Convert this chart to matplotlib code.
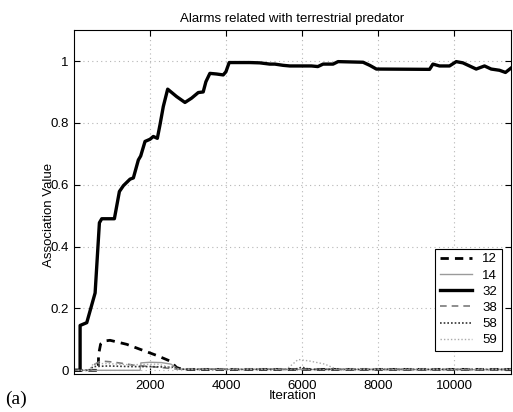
import numpy as np
import matplotlib; matplotlib.use('agg')
import matplotlib.pyplot as plt

plt.rcParams['font.family'] = ['Liberation Sans', 'DejaVu Sans']

# curve 32 (thick solid)
it32 = [0, 160, 160, 335, 555, 668, 730, 1062, 1194, 1300, 1474, 1562, 1693, 1755, 1869,
        2000, 2087, 2193, 2263, 2350, 2465, 2700, 2920, 3095, 3270, 3400, 3471, 3576,
        3750, 3926, 3997, 4084, 4628, 4890, 5153, 5285, 5504, 5680, 6250, 6417, 6555,
        6818, 6950, 7607, 7783, 7958, 9358, 9446, 9620, 9883, 10060, 10235, 10585,
        10804, 10980, 11199, 11356, 11500]
v32 = [0, 0, 0.145, 0.154, 0.25, 0.477, 0.49, 0.49, 0.578, 0.597, 0.618, 0.622, 0.68,
       0.693, 0.74, 0.747, 0.756, 0.75, 0.794, 0.853, 0.909, 0.885, 0.866, 0.88, 0.898,
       0.9, 0.933, 0.96, 0.958, 0.955, 0.965, 0.995, 0.995, 0.994, 0.99, 0.99, 0.986,
       0.984, 0.984, 0.982, 0.99, 0.99, 0.998, 0.996, 0.986, 0.974, 0.973, 0.99, 0.984,
       0.984, 0.998, 0.994, 0.974, 0.984, 0.974, 0.97, 0.963, 0.977]

# curve 12 (thick dashed)
it12 = [0, 640, 645, 700, 817, 948, 1387, 1781, 2176, 2526, 2700, 2850, 11500]
v12 = [0, 0, 0.05, 0.085, 0.095, 0.097, 0.084, 0.066, 0.048, 0.03, 0.009, 0.003, 0.003]

# curve 14 (thin light solid)
it14 = [0, 1740, 1760, 2000, 2300, 2550, 2750, 11500]
v14 = [0, 0, 0.024, 0.026, 0.025, 0.02, 0.003, 0.002]

# curve 38 (gray dashed)
it38 = [0, 450, 550, 700, 1000, 1300, 1600, 2200, 2700, 11500]
v38 = [0, 0, 0.02, 0.03, 0.027, 0.022, 0.016, 0.01, 0.004, 0.003]

# curve 58 (dark dotted)
it58 = [0, 400, 500, 900, 1500, 2000, 2600, 2900, 5800, 6000, 6200, 11500]
v58 = [0, 0, 0.012, 0.014, 0.012, 0.012, 0.01, 0.003, 0.003, 0.01, 0.003, 0.003]

# curve 59 (light dotted)
it59 = [0, 400, 500, 800, 1500, 2200, 2700, 5600, 5900, 6200, 6600, 6900, 11500]
v59 = [0, 0, 0.02, 0.022, 0.018, 0.02, 0.004, 0.004, 0.035, 0.03, 0.02, 0.004, 0.004]

fig = plt.figure(figsize=(5.13, 4.12), dpi=100)
ax = fig.add_axes([0.1443, 0.0922, 0.8517, 0.8348])

ax.plot(it12, v12, color='black', lw=2.0, ls=(0, (3, 2.2)), label='12')
ax.plot(it14, v14, color='#9a9a9a', lw=1.0, ls='-', label='14')
ax.plot(it32, v32, color='black', lw=2.4, ls='-', label='32')
ax.plot(it38, v38, color='#7a7a7a', lw=1.2, ls=(0, (4, 3)), label='38')
ax.plot(it58, v58, color='#333333', lw=1.2, ls=(0, (1, 1.2)), label='58')
ax.plot(it59, v59, color='#aaaaaa', lw=1.0, ls=(0, (1, 1.5)), label='59')

ax.set_xlim(0, 11500)
ax.set_ylim(-0.012, 1.1)
ax.set_xticks([2000, 4000, 6000, 8000, 10000])
ax.set_yticks([0, 0.2, 0.4, 0.6, 0.8, 1])
ax.set_yticklabels(['0', '0.2', '0.4', '0.6', '0.8', '1'])
ax.tick_params(direction='in', top=True, right=True, labelsize=9.5, length=4, pad=4)
ax.grid(True, color='#b5b5b5', ls=(0, (1, 3)), lw=0.8)
for s in ax.spines.values():
    s.set_linewidth(0.8)

ax.set_title('Alarms related with terrestrial predator', fontsize=9.5, pad=6)
ax.set_xlabel('Iteration', fontsize=9.5, labelpad=-1)
ax.set_ylabel('Association Value', fontsize=9.5)
# the label sits over the tick labels, as in the original
ax.yaxis.set_label_coords(-0.043, 0.462)

leg = ax.legend(loc='lower right', bbox_to_anchor=(0.979, 0.067), fontsize=9.5,
                fancybox=False, edgecolor='black', framealpha=1, handlelength=2.4,
                borderpad=0.35, labelspacing=0.3, handletextpad=0.8, borderaxespad=0)
leg.get_frame().set_linewidth(0.8)

fig.text(0.01, 0.02, '(a)', family='Liberation Serif', fontsize=14)

fig.savefig('out.png', dpi=100)
